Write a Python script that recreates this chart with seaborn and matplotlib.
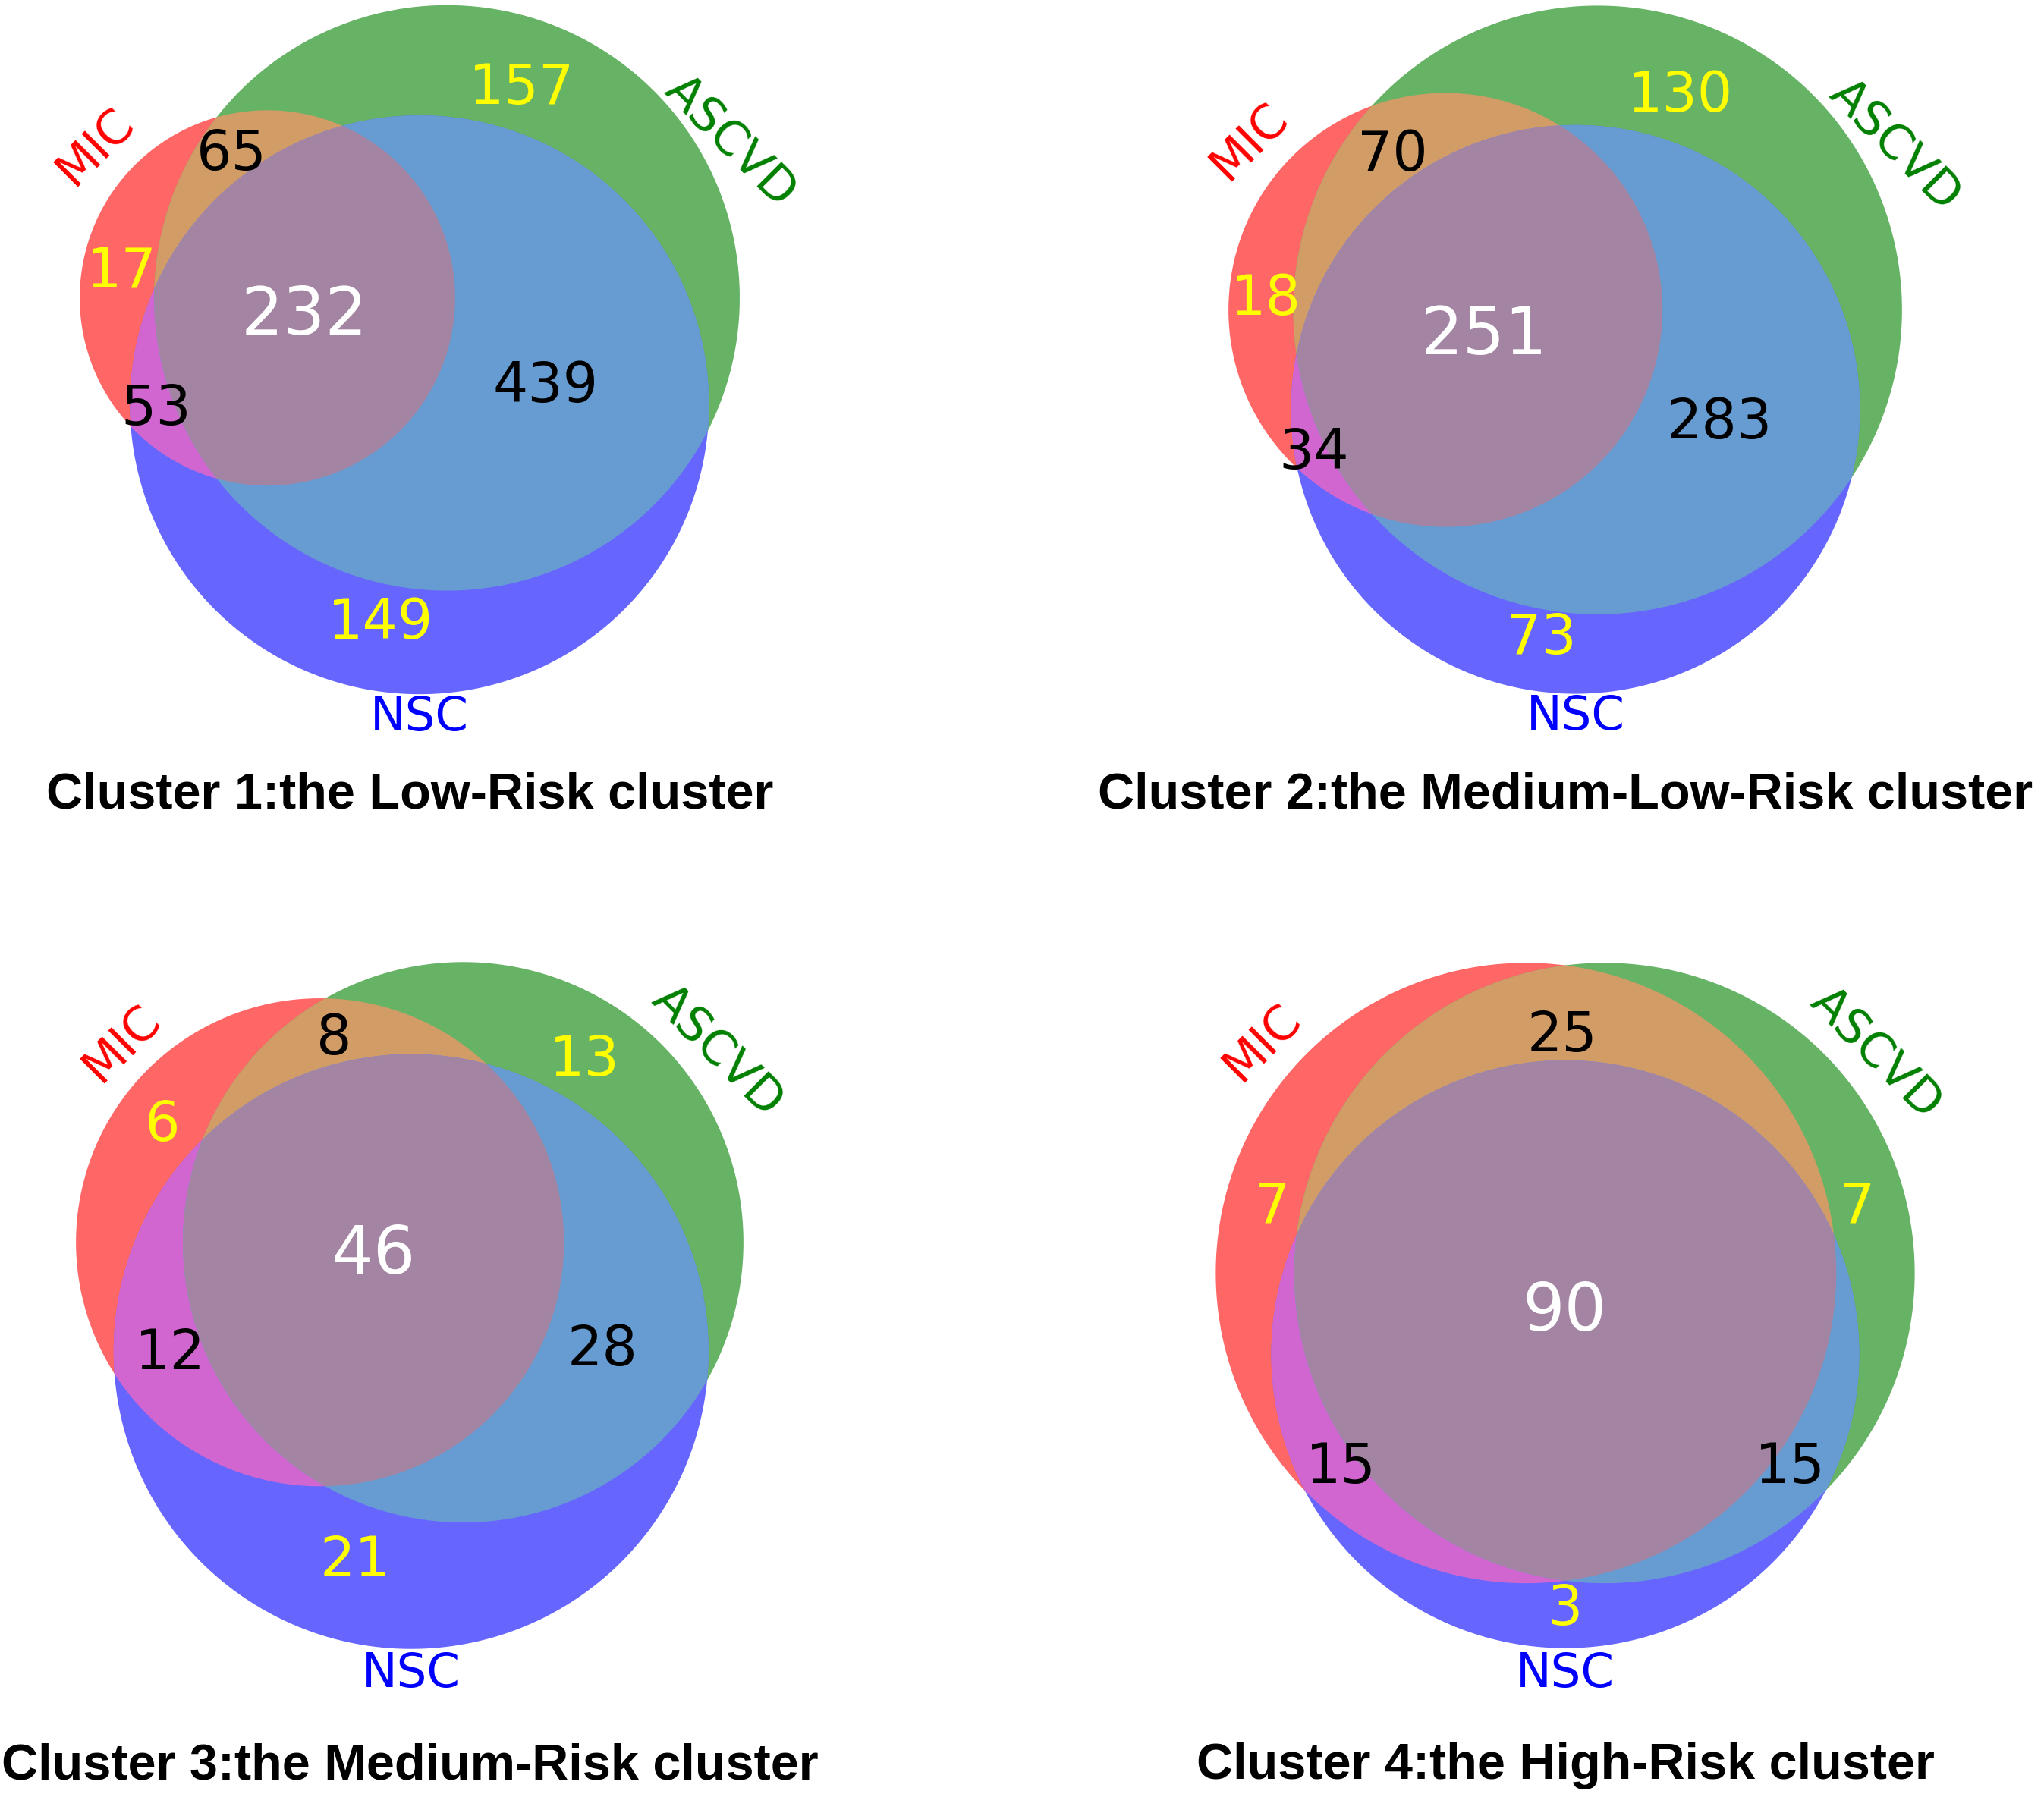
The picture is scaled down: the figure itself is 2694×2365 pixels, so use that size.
import numpy as np
import matplotlib
matplotlib.use("Agg")
import matplotlib.pyplot as plt
from matplotlib.colors import to_rgb
from matplotlib.patches import Polygon
import seaborn as sns

sns.set_style("white")
plt.rcParams["font.family"] = ["DejaVu Sans"]
plt.rcParams["text.color"] = "black"

set_names = ["MIC", "ASCVD", "NSC"]
set_colors = ["r", "g", "b"]
titles = ["Cluster 1:the Low-Risk cluster",
          "Cluster 2:the Medium-Low-Risk cluster",
          "Cluster 3:the Medium-Risk cluster",
          "Cluster 4:the High-Risk cluster"]

# region sizes: MIC only, ASCVD only, MIC&ASCVD, NSC only, MIC&NSC, ASCVD&NSC, all three
cluster1 = [17, 157, 65, 149, 53, 439, 232]
cluster2 = [18, 130, 70, 73, 34, 283, 251]
cluster3 = [6, 13, 8, 21, 12, 28, 46]
cluster4 = [7, 7, 25, 3, 15, 15, 90]
clusters = [cluster1, cluster2, cluster3, cluster4]
region_codes = ["100", "010", "110", "001", "101", "011", "111"]


def overlap_area(r1, r2, d):
    if d >= r1 + r2:
        return 0.0
    if d <= abs(r1 - r2):
        return np.pi * min(r1, r2) ** 2
    a1 = r1 ** 2 * np.arccos((d * d + r1 * r1 - r2 * r2) / (2 * d * r1))
    a2 = r2 ** 2 * np.arccos((d * d + r2 * r2 - r1 * r1) / (2 * d * r2))
    a3 = 0.5 * np.sqrt((-d + r1 + r2) * (d + r1 - r2) * (d - r1 + r2) * (d + r1 + r2))
    return a1 + a2 - a3


def solve_distance(r1, r2, area):
    lo, hi = abs(r1 - r2), r1 + r2
    for _ in range(80):
        mid = (lo + hi) / 2
        if overlap_area(r1, r2, mid) > area:
            lo = mid
        else:
            hi = mid
    return (lo + hi) / 2


def venn3_layout(sub):
    # area-proportional circles, pairwise overlaps fitted, A and B side by side, C below
    a, b, ab, c, ac, bc, abc = np.array(sub, float) / sum(sub)
    r = np.sqrt(np.array([a + ab + ac + abc, b + ab + bc + abc, c + ac + bc + abc]) / np.pi)
    d_ab = solve_distance(r[0], r[1], ab + abc)
    d_ac = solve_distance(r[0], r[2], ac + abc)
    d_bc = solve_distance(r[1], r[2], bc + abc)
    cx = (d_ac ** 2 + d_ab ** 2 - d_bc ** 2) / (2 * d_ab)
    cy = -np.sqrt(max(d_ac ** 2 - cx ** 2, 0))
    centers = np.array([[0, 0], [d_ab, 0], [cx, cy]])
    centers -= (centers * r[:, None] ** 2).sum(0) / (r ** 2).sum()
    return centers, r


def circle_pts(c, r, n=2000):
    t = np.linspace(0, 2 * np.pi, n, endpoint=False)
    return np.column_stack([c[0] + r * np.cos(t), c[1] + r * np.sin(t)])


def intersection_poly(idx, centers, radii):
    pts = []
    for i in idx:
        p = circle_pts(centers[i], radii[i])
        keep = np.ones(len(p), bool)
        for j in idx:
            if j != i:
                keep &= np.hypot(p[:, 0] - centers[j][0], p[:, 1] - centers[j][1]) <= radii[j]
        pts.append(p[keep])
    pts = np.vstack(pts)
    m = pts.mean(0)
    return pts[np.argsort(np.arctan2(pts[:, 1] - m[1], pts[:, 0] - m[0]))]


def shade(col):
    return tuple(1 - 0.6 * (1 - np.minimum(col, 1)))


def region_info(P, code, centers, radii):
    d = np.array([np.hypot(P[:, 0] - c[0], P[:, 1] - c[1]) - r for c, r in zip(centers, radii)])
    mask = np.ones(len(P), bool)
    for i, ch in enumerate(code):
        mask &= (d[i] <= 0) if ch == "1" else (d[i] > 0)
    return mask, np.abs(d).min(0)


def label_spot(code, centers, radii):
    x0 = (centers[:, 0] - radii).min()
    x1 = (centers[:, 0] + radii).max()
    y0 = (centers[:, 1] - radii).min()
    y1 = (centers[:, 1] + radii).max()
    gx, gy = np.meshgrid(np.linspace(x0, x1, 500), np.linspace(y0, y1, 500))
    P = np.column_stack([gx.ravel(), gy.ravel()])
    mask, clear = region_info(P, code, centers, radii)
    cen = P[mask].mean(0)
    score = clear - 0.02 * np.hypot(P[:, 0] - cen[0], P[:, 1] - cen[1])
    score[~mask] = -np.inf
    k = np.argmax(score)
    pole, pole_clear = P[k], clear[k]
    # single-set crescents sit closer to their widest point
    w = 0.3 if code.count("1") == 1 else 0.5
    mid = (1 - w) * pole + w * cen
    m_in, m_clear = region_info(mid[None, :], code, centers, radii)
    if m_in[0] and m_clear[0] >= 0.5 * pole_clear:
        return mid
    return pole


base = [np.array(to_rgb(c)) for c in set_colors]
# set label placement per panel: (angle on circle in degrees, offset in points)
mic_label = [(138.5, 13.0), (139.3, 13.0), (134.8, 11.5), (138.8, 12.7)]
ascvd_label = [(28.9, 9.6), (29.0, 11.0), (37.0, 11.8), (39.0, 12.2)]
nsc_label = [(270.0, 7.4), (270.0, 7.4), (270.0, 8.0), (270.0, 8.2)]
label_rotations = [45, -45, 0]

W, H = 2694, 2365
fig = plt.figure(figsize=(W / 300, H / 300), dpi=300)
col_centers = [540, 2063]
row_centers = [461, 1721]
title_rows = [1048, 2328]
ax_w, ax_h = 1250, 1061

for k, sub in enumerate(clusters):
    cx_px = col_centers[k % 2]
    cy_px = row_centers[k // 2]
    ax = fig.add_axes([(cx_px - ax_w / 2) / W, 1 - (cy_px + ax_h / 2) / H, ax_w / W, ax_h / H])
    centers, radii = venn3_layout(sub)

    z = 1
    for i in range(3):
        ax.add_patch(Polygon(circle_pts(centers[i], radii[i]), closed=True,
                             facecolor=shade(base[i]), edgecolor="none", zorder=z))
        z += 1
    for i, j in [(0, 1), (0, 2), (1, 2)]:
        ax.add_patch(Polygon(intersection_poly([i, j], centers, radii), closed=True,
                             facecolor=shade(0.7 * (base[i] + base[j])), edgecolor="none", zorder=z))
        z += 1
    ax.add_patch(Polygon(intersection_poly([0, 1, 2], centers, radii), closed=True,
                         facecolor=shade(0.4 * (base[0] + base[1] + base[2])), edgecolor="none", zorder=z))

    for code, val in zip(region_codes, sub):
        pos = label_spot(code, centers, radii)
        n_in = code.count("1")
        color = {1: "yellow", 2: "black", 3: "white"}[n_in]
        size = 21 if n_in == 3 else 17.5
        ax.text(pos[0], pos[1], str(val), color=color, fontsize=size,
                ha="center", va="center", zorder=20)

    placements = [mic_label[k], ascvd_label[k], nsc_label[k]]
    for i in range(3):
        ang, off = placements[i]
        th = np.deg2rad(ang)
        xy = centers[i] + radii[i] * np.array([np.cos(th), np.sin(th)])
        ax.annotate(set_names[i], xy=xy,
                    xytext=(off * np.cos(th), off * np.sin(th)),
                    textcoords="offset points", ha="center", va="center",
                    rotation=label_rotations[i], color=set_colors[i], fontsize=15,
                    annotation_clip=False, zorder=20)

    ax.set_xlim((centers[:, 0] - radii).min() - 0.1, (centers[:, 0] + radii).max() + 0.1)
    ax.set_ylim((centers[:, 1] - radii).min() - 0.1, (centers[:, 1] + radii).max() + 0.1)
    ax.set_aspect("equal", adjustable="box", anchor="C")
    ax.set_axis_off()

    fig.text(cx_px / W, 1 - title_rows[k // 2] / H, titles[k], ha="center", va="center",
             fontsize=16, fontweight="bold", color="black",
             family=["Liberation Sans", "DejaVu Sans"])

fig.savefig("out.png", dpi=300, facecolor="white")
